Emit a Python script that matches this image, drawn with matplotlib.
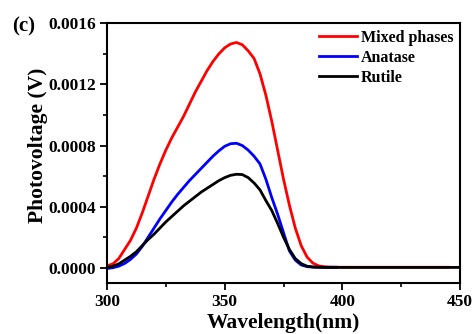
import numpy as np
import matplotlib
matplotlib.use('Agg')
import matplotlib.pyplot as plt
from matplotlib.ticker import MultipleLocator, FormatStrFormatter

plt.rcParams['font.family'] = 'Liberation Serif'
plt.rcParams['font.weight'] = 'bold'

# wavelength grid (nm) for the active part of the spectra
wl_main = np.arange(300, 397.5, 2.5)

# photovoltage values in units of 1e-4 V
mixed = [0.12, 0.25, 0.6, 1.2, 1.8, 2.6, 3.6, 4.7, 5.8, 6.8,
         7.7, 8.5, 9.2, 9.9, 10.7, 11.5, 12.2, 12.9, 13.5, 14.0,
         14.4, 14.65, 14.75, 14.6, 14.2, 13.7, 12.7, 11.3, 9.6, 7.7,
         5.8, 4.1, 2.6, 1.45, 0.7, 0.3, 0.12, 0.06, 0.04]
mixed_tail_wl = [400, 405, 410, 415, 420, 425, 430, 435, 440, 445]
mixed_tail = [0.03, 0.03, 0.03, 0.03, 0.03, 0.03, 0.03, 0.03, 0.03, 0.03]

anatase = [-0.05, 0.0, 0.1, 0.28, 0.55, 0.9, 1.4, 2.0, 2.6, 3.2,
           3.75, 4.3, 4.8, 5.25, 5.7, 6.1, 6.5, 6.9, 7.3, 7.65,
           7.95, 8.12, 8.15, 8.0, 7.7, 7.3, 6.8, 5.8, 4.6, 3.5,
           2.3, 1.1, 0.5, 0.18, 0.07, 0.04, 0.03, 0.03, 0.03]
anatase_tail_wl = [397.5]
anatase_tail = [0.03]

rutile = [0.02, 0.1, 0.25, 0.5, 0.75, 1.05, 1.45, 1.85, 2.2, 2.6,
          3.0, 3.35, 3.7, 4.05, 4.35, 4.65, 4.95, 5.2, 5.45, 5.7,
          5.9, 6.05, 6.12, 6.1, 5.9, 5.55, 5.1, 4.4, 3.75, 2.9,
          2.0, 1.2, 0.6, 0.27, 0.1, 0.05, 0.03, 0.02, 0.02]
rutile_tail_wl = [400, 405, 410, 415, 420, 425, 430, 435, 440, 445, 450]
rutile_tail = [0.02, 0.02, 0.02, 0.02, 0.02, 0.02, 0.02, 0.02, 0.02, 0.02, 0.02]

labels = ['Mixed phases', 'Anatase', 'Rutile']
colors = ['#ff0000', '#0000ff', '#000000']

fig = plt.figure(figsize=(4.72, 3.34), dpi=100)
ax = fig.add_axes([0.2267, 0.1527, 0.7479, 0.7773])

series = [(mixed, mixed_tail_wl, mixed_tail),
          (anatase, anatase_tail_wl, anatase_tail),
          (rutile, rutile_tail_wl, rutile_tail)]
for (vals, twl, tv), lab, c in zip(series, labels, colors):
    x = np.concatenate([wl_main, twl])
    y = np.concatenate([vals, tv]) * 1e-4
    ax.plot(x, y, color=c, lw=2.0, label=lab)

ax.set_xlim(300, 450)
ax.set_ylim(-0.0001, 0.0016)
ax.xaxis.set_major_locator(MultipleLocator(50))
ax.xaxis.set_minor_locator(MultipleLocator(25))
ax.yaxis.set_major_locator(MultipleLocator(0.0004))
ax.yaxis.set_minor_locator(MultipleLocator(0.0002))
ax.yaxis.set_major_formatter(FormatStrFormatter('%.4f'))

for s in ax.spines.values():
    s.set_linewidth(1.5)
ax.tick_params(which='major', direction='out', length=5, width=1.3, labelsize=12.5, pad=3)
ax.tick_params(which='minor', direction='out', length=3, width=1.2)
ax.tick_params(top=False, right=False)

ax.set_xlabel('Wavelength(nm)', fontsize=15.5, fontweight='bold', labelpad=2)
ax.set_ylabel('Photovoltage (V)', fontsize=15.5, fontweight='bold')
ax.yaxis.set_label_coords(-0.168, 0.531)

ax.legend(loc='upper right', bbox_to_anchor=(1.0, 1.0), frameon=False,
          fontsize=11.5, handlelength=2.4, handletextpad=0.25,
          labelspacing=0.25, borderpad=0.3, borderaxespad=0.1)

fig.text(0.025, 0.922, '(c)', fontsize=15, fontweight='bold', va='center')

fig.savefig('out.png', dpi=100)
